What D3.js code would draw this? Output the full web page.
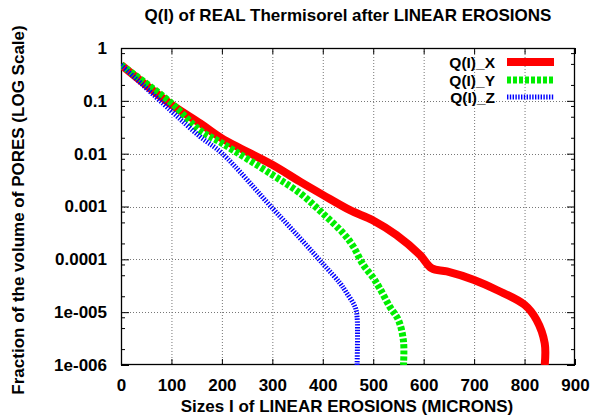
<!DOCTYPE html>
<html>
<head>
<meta charset="utf-8">
<script src="https://cdn.jsdelivr.net/npm/d3@7"></script>
<style>
  html, body { margin: 0; padding: 0; background: #fff; }
  svg { display: block; }
  text { font-family: "Liberation Sans", Arial, Helvetica, sans-serif; font-weight: bold; fill: #000; }
</style>
</head>
<body>
<svg id="chart" width="594" height="418"></svg>
<script>
// ---- data ----
const xTicks = [0, 100, 200, 300, 400, 500, 600, 700, 800, 900];
const yTicks = [1, 0.1, 0.01, 0.001, 0.0001, 1e-5, 1e-6];
const yTickLabels = ["1", "0.1", "0.01", "0.001", "0.0001", "1e-005", "1e-006"];
const seriesNames = ["Q(I)_X", "Q(I)_Y", "Q(I)_Z"];

const xX = [0, 97, 157, 200, 300, 355, 400, 454, 499, 546, 593, 616, 646, 700, 745, 800, 824, 840, 840];
const yX = [0.479, 0.0891, 0.0376, 0.0195, 0.00617, 0.00295, 0.00166, 0.000851, 0.00055, 0.000288,
            0.00012, 6.76e-5, 5.89e-5, 4.07e-5, 2.63e-5, 1.38e-5, 7.08e-6, 2.57e-6, 1e-6];

const xY = [0, 97, 157, 200, 300, 355, 400, 441, 460, 480, 500, 513, 533, 550, 560, 560];
const yY = [0.479, 0.0955, 0.0275, 0.0158, 0.00398, 0.00178, 0.000741, 0.000309, 0.000178, 7.94e-5,
            4.47e-5, 2.82e-5, 1.26e-5, 7.08e-6, 2.82e-6, 1e-6];

const xZ = [0, 97, 157, 200, 300, 355, 400, 434, 447, 464, 468, 468];
const yZ = [0.479, 0.0676, 0.0209, 0.0102, 0.000933, 0.000251, 8.3e-5, 3.55e-5, 2.34e-5, 1.26e-5, 8.1e-6, 1e-6];

// ---- layout ----
const svg = d3.select("#chart");
const L = 121, R = 575, T = 48, B = 365;
const x = d3.scaleLinear().domain([0, 900]).range([L, R]);
const y = d3.scaleLog().domain([1e-6, 1]).range([B, T]);

// grid
const grid = svg.append("g").attr("stroke", "#777").attr("stroke-width", 1).attr("stroke-dasharray", "1,2");
xTicks.slice(1, -1).forEach(t => {
  grid.append("line").attr("x1", x(t) + 0.5).attr("x2", x(t) + 0.5).attr("y1", T).attr("y2", B);
});
yTicks.slice(1, -1).forEach(t => {
  grid.append("line").attr("x1", L).attr("x2", R).attr("y1", Math.round(y(t)) + 0.5).attr("y2", Math.round(y(t)) + 0.5);
});

// minor ticks on log axis (2, 5, 8 multiples)
const minor = [];
for (let e = -6; e < 0; e++) [2, 5, 8].forEach(m => minor.push(m * Math.pow(10, e)));

// axes with d3 axis generators
const axB = d3.axisBottom(x).tickValues(xTicks).tickSize(-6).tickSizeOuter(0).tickPadding(14).tickFormat(d3.format("d"));
const axT = d3.axisTop(x).tickValues(xTicks).tickSize(-6).tickSizeOuter(0).tickFormat("");
const axL = d3.axisLeft(y).tickValues(yTicks).tickSize(-8).tickSizeOuter(0).tickPadding(14)
  .tickFormat((d, i) => yTickLabels[i]);
const axR = d3.axisRight(y).tickValues(yTicks).tickSize(-8).tickSizeOuter(0).tickFormat("");
const axLm = d3.axisLeft(y).tickValues(minor).tickSize(-4).tickSizeOuter(0).tickFormat("");
const axRm = d3.axisRight(y).tickValues(minor).tickSize(-4).tickSizeOuter(0).tickFormat("");

function styleAxis(g) {
  g.select(".domain").remove();
  g.selectAll("line").attr("stroke", "#000");
  g.selectAll("text").attr("font-size", "17px").attr("font-family", "'Liberation Sans', Arial, sans-serif").attr("font-weight", "bold");
}
svg.append("g").attr("transform", `translate(0,${B})`).call(axB).call(styleAxis);
svg.append("g").attr("transform", `translate(0,${T})`).call(axT).call(styleAxis);
svg.append("g").attr("transform", `translate(${L},0)`).call(axL).call(styleAxis);
svg.append("g").attr("transform", `translate(${R},0)`).call(axR).call(styleAxis);
svg.append("g").attr("transform", `translate(${L},0)`).call(axLm).call(styleAxis);
svg.append("g").attr("transform", `translate(${R},0)`).call(axRm).call(styleAxis);

// frame
svg.append("rect").attr("x", L + 0.5).attr("y", T + 0.5).attr("width", R - L - 1).attr("height", B - T - 1)
  .attr("fill", "none").attr("stroke", "#000").attr("stroke-width", 1.3);

// clip
svg.append("clipPath").attr("id", "plotclip").append("rect")
  .attr("x", L).attr("y", T).attr("width", R - L).attr("height", B - T);

const series = [
  { name: seriesNames[0], xs: xX, ys: yX, color: "#ff0000", width: 8, dash: null },
  { name: seriesNames[1], xs: xY, ys: yY, color: "#00ee00", width: 7, dash: "4,2" },
  { name: seriesNames[2], xs: xZ, ys: yZ, color: "#0000ff", width: 5, dash: "1.4,1.4" }
];

const line = d3.line().x(d => x(d[0])).y(d => y(d[1])).curve(d3.curveCatmullRom.alpha(0.5));
const plot = svg.append("g").attr("clip-path", "url(#plotclip)");
series.forEach(s => {
  const pts = s.xs.map((v, i) => [v, s.ys[i]]);
  plot.append("path").datum(pts).attr("d", line)
    .attr("fill", "none").attr("stroke", s.color).attr("stroke-width", s.width)
    .attr("stroke-linejoin", "round")
    .attr("stroke-dasharray", s.dash);
});

// legend
const legY = [62, 80, 97];
series.forEach((s, i) => {
  svg.append("text").attr("x", 495).attr("y", legY[i] + 5.5).attr("text-anchor", "end")
    .attr("font-size", "15.5px").text(s.name);
  svg.append("line").attr("x1", 507).attr("x2", 554).attr("y1", legY[i]).attr("y2", legY[i])
    .attr("stroke", s.color).attr("stroke-width", s.width).attr("stroke-dasharray", s.dash);
});

// title and axis labels
svg.append("text").attr("x", 348).attr("y", 21).attr("text-anchor", "middle").attr("font-size", "17px")
  .text("Q(I) of REAL Thermisorel after LINEAR EROSIONS");
svg.append("text").attr("x", 347).attr("y", 412).attr("text-anchor", "middle").attr("font-size", "17px")
  .text("Sizes I of LINEAR EROSIONS (MICRONS)");
svg.append("text").attr("transform", "translate(24,210) rotate(-90)").attr("text-anchor", "middle").attr("font-size", "17px")
  .text("Fraction of the volume of PORES (LOG Scale)");
</script>
</body>
</html>
